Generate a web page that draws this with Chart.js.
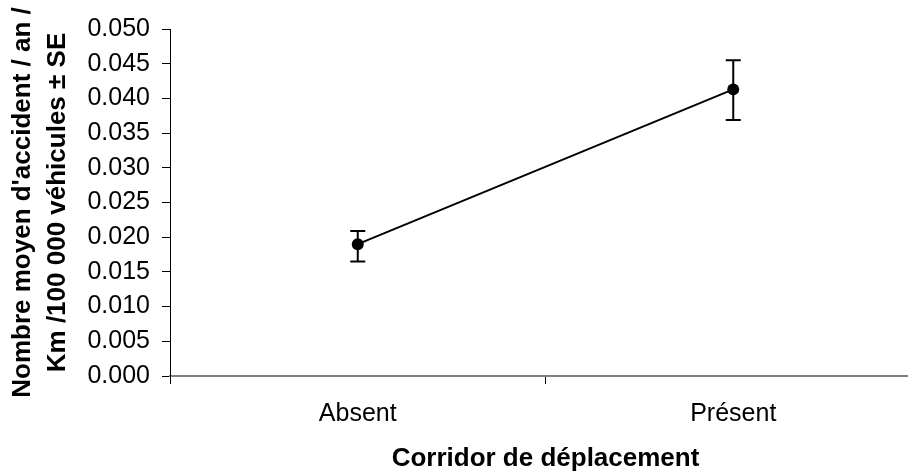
<!DOCTYPE html>
<html>
<head>
<meta charset="utf-8">
<script src="https://cdn.jsdelivr.net/npm/chart.js@4"></script>
<style>
  html, body { margin: 0; padding: 0; background: #fff; overflow: hidden; }
  #wrap { width: 927px; height: 474px; }
</style>
</head>
<body>
<div id="wrap"><canvas id="accidentChart" width="927" height="474"></canvas></div>
<script>
// values
const categories = ['Absent', 'Présent'];
const meanAccidents = [0.0190, 0.0413];
const upperSE = [0.0209, 0.0455];
const lowerSE = [0.0165, 0.0369];

const yTitle = ["Nombre moyen d'accident / an /", 'Km /100 000 véhicules ± SE'];
const xTitle = 'Corridor de déplacement';

const fontFamily = "'Liberation Sans', Arial, sans-serif";

// draws the ± SE bars under the markers
const errorBars = {
    id: 'errorBars',
    beforeDatasetsDraw(chart) {
        const ctx = chart.ctx;
        const x = chart.scales.x;
        const y = chart.scales.y;
        ctx.save();
        ctx.strokeStyle = '#000';
        ctx.lineWidth = 2;
        for (let i = 0; i < categories.length; i++) {
            const px = x.getPixelForValue(i);
            const top = y.getPixelForValue(upperSE[i]);
            const bottom = y.getPixelForValue(lowerSE[i]);
            ctx.beginPath();
            ctx.moveTo(px, top);
            ctx.lineTo(px, bottom);
            ctx.moveTo(px - 7.5, top);
            ctx.lineTo(px + 7.5, top);
            ctx.moveTo(px - 7.5, bottom);
            ctx.lineTo(px + 7.5, bottom);
            ctx.stroke();
        }
        ctx.restore();
    }
};

const ctx = document.getElementById('accidentChart').getContext('2d');

new Chart(ctx, {
    type: 'line',
    data: {
        labels: categories,
        datasets: [{
            data: meanAccidents,
            borderColor: '#000',
            backgroundColor: '#000',
            borderWidth: 2,
            pointRadius: 6,
            pointBorderWidth: 0,
            fill: false,
            tension: 0
        }]
    },
    options: {
        responsive: false,
        animation: false,
        layout: { padding: { top: 29, right: 1, left: 0, bottom: 0 } },
        plugins: {
            legend: { display: false },
            tooltip: { enabled: false }
        },
        scales: {
            x: {
                offset: true,
                grid: {
                    offset: true,
                    drawOnChartArea: false,
                    tickLength: 8,
                    tickColor: '#000',
                    tickWidth: 1
                },
                border: { color: '#808080', width: 2 },
                ticks: {
                    color: '#000',
                    padding: 15,
                    font: { family: fontFamily, size: 25 }
                },
                title: {
                    display: true,
                    text: xTitle,
                    color: '#000',
                    padding: { top: 0, bottom: 0 },
                    font: { family: fontFamily, size: 26, weight: 'bold' }
                },
                afterFit: scale => { scale.height = 98; }
            },
            y: {
                min: 0,
                max: 0.05,
                grid: {
                    drawOnChartArea: false,
                    tickLength: 8,
                    tickColor: '#000',
                    tickWidth: 1
                },
                border: { color: '#000', width: 1 },
                ticks: {
                    stepSize: 0.005,
                    color: '#000',
                    padding: 12,
                    font: { family: fontFamily, size: 25 },
                    callback: v => v.toFixed(3)
                },
                title: {
                    display: true,
                    text: yTitle,
                    color: '#000',
                    padding: { top: 5, bottom: 0 },
                    font: { family: fontFamily, size: 26, weight: 'bold', lineHeight: 1.35 }
                },
                afterFit: scale => { scale.width = 170; }
            }
        }
    },
    plugins: [errorBars]
});
</script>
</body>
</html>
